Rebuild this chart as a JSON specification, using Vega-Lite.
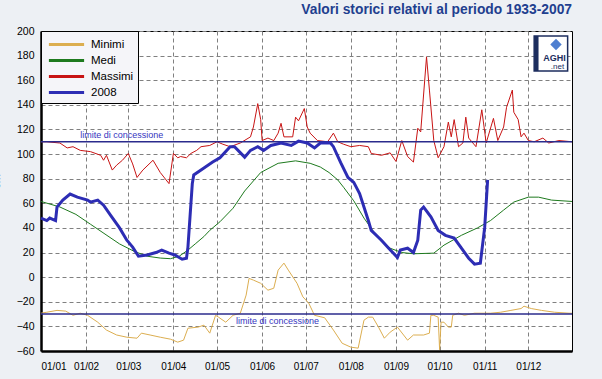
{
  "$schema": "https://vega.github.io/schema/vega-lite/v6.json",
  "width": 531,
  "height": 320,
  "autosize": {"type": "none"},
  "padding": {"left": 41, "top": 31, "right": 30, "bottom": 28},
  "background": "#edf0f4",
  "title": {"text": "Valori storici relativi al periodo 1933-2007", "anchor": "end", "frame": "group", "font": "Liberation Sans", "fontSize": 13.8, "fontWeight": "bold", "color": "#1f3f8f", "offset": 9},
  "config": {
    "view": {"fill": "#ffffff", "stroke": "#000000", "strokeWidth": 1},
    "axis": {"labelFont": "Liberation Sans", "labelFontSize": 10.5, "labelColor": "#000000", "labelOverlap": false, "gridColor": "#808080", "gridDash": [4, 3], "gridWidth": 1, "gridOpacity": 1, "domainColor": "#000000", "domainWidth": 2.5, "ticks": false, "titleFont": "Liberation Sans", "titleFontSize": 11, "titleFontWeight": "normal", "titleColor": "#000000"}
  },
  "datasets": {
    "series": [
      {"s": "Minimi", "day": 0, "v": -29.3}, {"s": "Minimi", "day": 4, "v": -28.5}, {"s": "Minimi", "day": 11, "v": -27}, {"s": "Minimi", "day": 17, "v": -27.6}, {"s": "Minimi", "day": 22, "v": -31}, {"s": "Minimi", "day": 27, "v": -29.3}, {"s": "Minimi", "day": 32, "v": -31}, {"s": "Minimi", "day": 39, "v": -36.6}, {"s": "Minimi", "day": 45, "v": -43}, {"s": "Minimi", "day": 52, "v": -47}, {"s": "Minimi", "day": 59, "v": -48.8}, {"s": "Minimi", "day": 66, "v": -49.6}, {"s": "Minimi", "day": 69, "v": -45.5}, {"s": "Minimi", "day": 75, "v": -47}, {"s": "Minimi", "day": 82, "v": -48.8}, {"s": "Minimi", "day": 89, "v": -50.4}, {"s": "Minimi", "day": 94, "v": -52.8}, {"s": "Minimi", "day": 98, "v": -51.2}, {"s": "Minimi", "day": 101, "v": -41.5}, {"s": "Minimi", "day": 108, "v": -40.6}, {"s": "Minimi", "day": 112, "v": -39}, {"s": "Minimi", "day": 116, "v": -45.5}, {"s": "Minimi", "day": 120, "v": -31}, {"s": "Minimi", "day": 122, "v": -32.5}, {"s": "Minimi", "day": 127, "v": -36.6}, {"s": "Minimi", "day": 132, "v": -31}, {"s": "Minimi", "day": 137, "v": -29.3}, {"s": "Minimi", "day": 141, "v": -14.6}, {"s": "Minimi", "day": 143, "v": -1}, {"s": "Minimi", "day": 146, "v": -2.4}, {"s": "Minimi", "day": 151, "v": -5}, {"s": "Minimi", "day": 156, "v": -10.6}, {"s": "Minimi", "day": 160, "v": -9}, {"s": "Minimi", "day": 163, "v": 5.7}, {"s": "Minimi", "day": 167, "v": 11.4}, {"s": "Minimi", "day": 170, "v": 5.7}, {"s": "Minimi", "day": 176, "v": -5}, {"s": "Minimi", "day": 180, "v": -16}, {"s": "Minimi", "day": 184, "v": -21}, {"s": "Minimi", "day": 188, "v": -31}, {"s": "Minimi", "day": 195, "v": -33}, {"s": "Minimi", "day": 201, "v": -43}, {"s": "Minimi", "day": 207, "v": -53.7}, {"s": "Minimi", "day": 213, "v": -56.9}, {"s": "Minimi", "day": 218, "v": -57.7}, {"s": "Minimi", "day": 222, "v": -35}, {"s": "Minimi", "day": 225, "v": -32.5}, {"s": "Minimi", "day": 228, "v": -32.5}, {"s": "Minimi", "day": 232, "v": -40.6}, {"s": "Minimi", "day": 236, "v": -49.6}, {"s": "Minimi", "day": 240, "v": -44.7}, {"s": "Minimi", "day": 245, "v": -40.6}, {"s": "Minimi", "day": 252, "v": -51.2}, {"s": "Minimi", "day": 256, "v": -47}, {"s": "Minimi", "day": 263, "v": -47}, {"s": "Minimi", "day": 267, "v": -45.5}, {"s": "Minimi", "day": 268, "v": -31}, {"s": "Minimi", "day": 270, "v": -31}, {"s": "Minimi", "day": 273, "v": -32.5}, {"s": "Minimi", "day": 274, "v": -59}, {"s": "Minimi", "day": 275, "v": -36.6}, {"s": "Minimi", "day": 277, "v": -36.6}, {"s": "Minimi", "day": 280, "v": -40.6}, {"s": "Minimi", "day": 282, "v": -40.6}, {"s": "Minimi", "day": 283, "v": -31}, {"s": "Minimi", "day": 287, "v": -29.3}, {"s": "Minimi", "day": 291, "v": -31}, {"s": "Minimi", "day": 298, "v": -29.3}, {"s": "Minimi", "day": 309, "v": -29.3}, {"s": "Minimi", "day": 316, "v": -28.5}, {"s": "Minimi", "day": 323, "v": -27}, {"s": "Minimi", "day": 330, "v": -25.5}, {"s": "Minimi", "day": 332, "v": -23.6}, {"s": "Minimi", "day": 337, "v": -25.5}, {"s": "Minimi", "day": 344, "v": -27}, {"s": "Minimi", "day": 353, "v": -28.5}, {"s": "Minimi", "day": 363, "v": -29.3}, {"s": "Minimi", "day": 365, "v": -29.3},
      {"s": "Medi", "day": 0, "v": 61.5}, {"s": "Medi", "day": 13, "v": 57}, {"s": "Medi", "day": 24, "v": 51}, {"s": "Medi", "day": 34, "v": 43}, {"s": "Medi", "day": 44, "v": 35}, {"s": "Medi", "day": 54, "v": 27}, {"s": "Medi", "day": 64, "v": 21}, {"s": "Medi", "day": 73, "v": 17}, {"s": "Medi", "day": 82, "v": 15.5}, {"s": "Medi", "day": 89, "v": 15}, {"s": "Medi", "day": 95, "v": 17}, {"s": "Medi", "day": 101, "v": 22}, {"s": "Medi", "day": 106, "v": 27}, {"s": "Medi", "day": 112, "v": 33}, {"s": "Medi", "day": 116, "v": 38}, {"s": "Medi", "day": 123, "v": 45}, {"s": "Medi", "day": 132, "v": 56}, {"s": "Medi", "day": 140, "v": 70}, {"s": "Medi", "day": 151, "v": 85}, {"s": "Medi", "day": 163, "v": 92.5}, {"s": "Medi", "day": 175, "v": 94.5}, {"s": "Medi", "day": 185, "v": 92.5}, {"s": "Medi", "day": 192, "v": 89.5}, {"s": "Medi", "day": 198, "v": 85}, {"s": "Medi", "day": 204, "v": 79}, {"s": "Medi", "day": 208, "v": 73}, {"s": "Medi", "day": 215, "v": 62}, {"s": "Medi", "day": 222, "v": 48}, {"s": "Medi", "day": 228, "v": 38}, {"s": "Medi", "day": 233, "v": 30}, {"s": "Medi", "day": 240, "v": 23.5}, {"s": "Medi", "day": 248, "v": 20}, {"s": "Medi", "day": 256, "v": 19}, {"s": "Medi", "day": 270, "v": 19.5}, {"s": "Medi", "day": 277, "v": 26}, {"s": "Medi", "day": 289, "v": 34}, {"s": "Medi", "day": 300, "v": 40}, {"s": "Medi", "day": 309, "v": 46}, {"s": "Medi", "day": 318, "v": 54.5}, {"s": "Medi", "day": 325, "v": 61}, {"s": "Medi", "day": 335, "v": 65}, {"s": "Medi", "day": 342, "v": 65}, {"s": "Medi", "day": 351, "v": 62.6}, {"s": "Medi", "day": 365, "v": 61.5},
      {"s": "Massimi", "day": 0, "v": 110}, {"s": "Massimi", "day": 4, "v": 110}, {"s": "Massimi", "day": 13, "v": 109}, {"s": "Massimi", "day": 18, "v": 105}, {"s": "Massimi", "day": 22, "v": 106}, {"s": "Massimi", "day": 27, "v": 103}, {"s": "Massimi", "day": 34, "v": 102}, {"s": "Massimi", "day": 41, "v": 99}, {"s": "Massimi", "day": 43, "v": 95}, {"s": "Massimi", "day": 45, "v": 99}, {"s": "Massimi", "day": 49, "v": 87}, {"s": "Massimi", "day": 52, "v": 91}, {"s": "Massimi", "day": 56, "v": 95}, {"s": "Massimi", "day": 60, "v": 100.5}, {"s": "Massimi", "day": 63, "v": 92}, {"s": "Massimi", "day": 66, "v": 81}, {"s": "Massimi", "day": 70, "v": 87}, {"s": "Massimi", "day": 77, "v": 95}, {"s": "Massimi", "day": 82, "v": 85}, {"s": "Massimi", "day": 88, "v": 76}, {"s": "Massimi", "day": 91, "v": 100.5}, {"s": "Massimi", "day": 94, "v": 97}, {"s": "Massimi", "day": 96, "v": 98}, {"s": "Massimi", "day": 100, "v": 97}, {"s": "Massimi", "day": 103, "v": 100.5}, {"s": "Massimi", "day": 107, "v": 103}, {"s": "Massimi", "day": 110, "v": 106}, {"s": "Massimi", "day": 116, "v": 107}, {"s": "Massimi", "day": 121, "v": 110}, {"s": "Massimi", "day": 125, "v": 108}, {"s": "Massimi", "day": 130, "v": 106}, {"s": "Massimi", "day": 137, "v": 109}, {"s": "Massimi", "day": 144, "v": 114}, {"s": "Massimi", "day": 146, "v": 122}, {"s": "Massimi", "day": 149, "v": 141}, {"s": "Massimi", "day": 151, "v": 128}, {"s": "Massimi", "day": 152, "v": 111}, {"s": "Massimi", "day": 156, "v": 113}, {"s": "Massimi", "day": 160, "v": 111}, {"s": "Massimi", "day": 163, "v": 117}, {"s": "Massimi", "day": 165, "v": 125}, {"s": "Massimi", "day": 167, "v": 114}, {"s": "Massimi", "day": 173, "v": 114}, {"s": "Massimi", "day": 175, "v": 130}, {"s": "Massimi", "day": 177, "v": 127}, {"s": "Massimi", "day": 181, "v": 137}, {"s": "Massimi", "day": 183, "v": 122}, {"s": "Massimi", "day": 185, "v": 117}, {"s": "Massimi", "day": 190, "v": 111}, {"s": "Massimi", "day": 197, "v": 110}, {"s": "Massimi", "day": 201, "v": 117}, {"s": "Massimi", "day": 204, "v": 110}, {"s": "Massimi", "day": 208, "v": 108}, {"s": "Massimi", "day": 213, "v": 106}, {"s": "Massimi", "day": 219, "v": 107}, {"s": "Massimi", "day": 225, "v": 106}, {"s": "Massimi", "day": 227, "v": 100.5}, {"s": "Massimi", "day": 234, "v": 99}, {"s": "Massimi", "day": 240, "v": 101}, {"s": "Massimi", "day": 244, "v": 94}, {"s": "Massimi", "day": 248, "v": 111}, {"s": "Massimi", "day": 252, "v": 98}, {"s": "Massimi", "day": 256, "v": 93.5}, {"s": "Massimi", "day": 259, "v": 121}, {"s": "Massimi", "day": 261, "v": 118}, {"s": "Massimi", "day": 265, "v": 179}, {"s": "Massimi", "day": 267, "v": 152}, {"s": "Massimi", "day": 270, "v": 111}, {"s": "Massimi", "day": 273, "v": 97}, {"s": "Massimi", "day": 277, "v": 106}, {"s": "Massimi", "day": 280, "v": 126}, {"s": "Massimi", "day": 282, "v": 114}, {"s": "Massimi", "day": 284, "v": 128}, {"s": "Massimi", "day": 287, "v": 106}, {"s": "Massimi", "day": 290, "v": 109}, {"s": "Massimi", "day": 292, "v": 130}, {"s": "Massimi", "day": 294, "v": 113}, {"s": "Massimi", "day": 299, "v": 106}, {"s": "Massimi", "day": 303, "v": 136}, {"s": "Massimi", "day": 306, "v": 109}, {"s": "Massimi", "day": 311, "v": 129}, {"s": "Massimi", "day": 314, "v": 111}, {"s": "Massimi", "day": 318, "v": 122}, {"s": "Massimi", "day": 320, "v": 138}, {"s": "Massimi", "day": 324, "v": 152}, {"s": "Massimi", "day": 325, "v": 134}, {"s": "Massimi", "day": 328, "v": 128}, {"s": "Massimi", "day": 330, "v": 114}, {"s": "Massimi", "day": 332, "v": 117}, {"s": "Massimi", "day": 335, "v": 111}, {"s": "Massimi", "day": 339, "v": 110}, {"s": "Massimi", "day": 345, "v": 113}, {"s": "Massimi", "day": 349, "v": 109}, {"s": "Massimi", "day": 356, "v": 111}, {"s": "Massimi", "day": 365, "v": 110},
      {"s": "2008", "day": 0, "v": 48}, {"s": "2008", "day": 4, "v": 46}, {"s": "2008", "day": 6, "v": 48}, {"s": "2008", "day": 10, "v": 46}, {"s": "2008", "day": 11, "v": 57}, {"s": "2008", "day": 15, "v": 62.6}, {"s": "2008", "day": 20, "v": 67.5}, {"s": "2008", "day": 25, "v": 65}, {"s": "2008", "day": 32, "v": 62.6}, {"s": "2008", "day": 34, "v": 61}, {"s": "2008", "day": 39, "v": 62.6}, {"s": "2008", "day": 43, "v": 58.5}, {"s": "2008", "day": 48, "v": 50}, {"s": "2008", "day": 54, "v": 40}, {"s": "2008", "day": 59, "v": 30}, {"s": "2008", "day": 63, "v": 24.4}, {"s": "2008", "day": 67, "v": 17}, {"s": "2008", "day": 73, "v": 18}, {"s": "2008", "day": 79, "v": 20}, {"s": "2008", "day": 83, "v": 22}, {"s": "2008", "day": 88, "v": 19.5}, {"s": "2008", "day": 92, "v": 18}, {"s": "2008", "day": 97, "v": 14.6}, {"s": "2008", "day": 100, "v": 15.4}, {"s": "2008", "day": 101, "v": 24.4}, {"s": "2008", "day": 104, "v": 76}, {"s": "2008", "day": 105, "v": 83}, {"s": "2008", "day": 112, "v": 88.6}, {"s": "2008", "day": 118, "v": 93.5}, {"s": "2008", "day": 123, "v": 97}, {"s": "2008", "day": 130, "v": 106}, {"s": "2008", "day": 133, "v": 106}, {"s": "2008", "day": 140, "v": 97.5}, {"s": "2008", "day": 144, "v": 103}, {"s": "2008", "day": 149, "v": 106}, {"s": "2008", "day": 153, "v": 103}, {"s": "2008", "day": 158, "v": 107}, {"s": "2008", "day": 165, "v": 109}, {"s": "2008", "day": 172, "v": 107}, {"s": "2008", "day": 177, "v": 110.5}, {"s": "2008", "day": 183, "v": 109}, {"s": "2008", "day": 188, "v": 105}, {"s": "2008", "day": 192, "v": 109}, {"s": "2008", "day": 199, "v": 109}, {"s": "2008", "day": 201, "v": 106}, {"s": "2008", "day": 206, "v": 93}, {"s": "2008", "day": 211, "v": 81}, {"s": "2008", "day": 215, "v": 77}, {"s": "2008", "day": 219, "v": 68}, {"s": "2008", "day": 225, "v": 46}, {"s": "2008", "day": 227, "v": 38}, {"s": "2008", "day": 234, "v": 30}, {"s": "2008", "day": 239, "v": 23.5}, {"s": "2008", "day": 245, "v": 16}, {"s": "2008", "day": 247, "v": 22}, {"s": "2008", "day": 252, "v": 23.5}, {"s": "2008", "day": 256, "v": 20}, {"s": "2008", "day": 259, "v": 30}, {"s": "2008", "day": 261, "v": 54.5}, {"s": "2008", "day": 263, "v": 57}, {"s": "2008", "day": 268, "v": 49}, {"s": "2008", "day": 273, "v": 38}, {"s": "2008", "day": 278, "v": 34}, {"s": "2008", "day": 284, "v": 31.7}, {"s": "2008", "day": 289, "v": 23.5}, {"s": "2008", "day": 294, "v": 15.4}, {"s": "2008", "day": 298, "v": 10.6}, {"s": "2008", "day": 302, "v": 11.4}, {"s": "2008", "day": 305, "v": 40.6}, {"s": "2008", "day": 307, "v": 79}
    ],
    "limits": [{"limit": 110}, {"limit": -30}]
  },
  "layer": [
    {
      "data": {"name": "series"},
      "transform": [{"filter": "datum.s != '2008'"}],
      "mark": {"type": "line", "strokeWidth": 1, "interpolate": "linear"},
      "encoding": {
        "x": {"field": "day", "type": "quantitative", "title": null, "scale": {"domain": [0, 365], "nice": false, "zero": false},
          "axis": {"values": [0, 31, 60, 91, 121, 152, 182, 213, 244, 274, 305, 335], "labelExpr": "timeFormat(datetime(2008, 0, 1 + datum.value), '%d/%m')", "labelFontSize": 10, "labelPadding": 10, "labelOverlap": false, "grid": true}},
        "y": {"field": "v", "type": "quantitative", "title": "cm", "scale": {"domain": [-60, 200], "nice": false, "zero": false},
          "axis": {"values": [-60, -40, -20, 0, 20, 40, 60, 80, 100, 120, 140, 160, 180, 200], "labelOverlap": false, "labelSeparation": 0, "labelPadding": 7, "grid": true, "titleX": -40, "titleY": 150, "titleAngle": -90}},
        "color": {"field": "s", "type": "nominal",
          "scale": {"domain": ["Minimi", "Medi", "Massimi", "2008"], "range": ["#dcae50", "#1e7a1e", "#c81414", "#2d2db4"]},
          "legend": {"title": null, "orient": "none", "legendX": 0, "legendY": 0, "fillColor": "#f5f5f9", "strokeColor": "#000000", "padding": 4, "symbolType": "M-2.2,0H2.2", "symbolSize": 256, "symbolOffset": 12, "symbolStrokeWidth": 3, "labelFont": "Liberation Sans", "labelFontSize": 11.5, "labelColor": "#000000", "labelOffset": 15, "rowPadding": 0, "labelExpr": "datum.label + '\u00a0\u00a0\u00a0\u00a0'"}}
      }
    },
    {
      "data": {"name": "limits"},
      "mark": {"type": "rule", "color": "#2b2b8c", "strokeWidth": 1.5},
      "encoding": {"y": {"field": "limit", "type": "quantitative", "title": "cm", "axis": {"values": [-60, -40, -20, 0, 20, 40, 60, 80, 100, 120, 140, 160, 180, 200], "labelOverlap": false}}}
    },
    {
      "data": {"values": [{"day": 27, "v": 110, "t": "limite di concessione"}]},
      "mark": {"type": "text", "align": "left", "baseline": "bottom", "dy": -2, "font": "Liberation Sans", "fontSize": 9, "color": "#3535c0"},
      "encoding": {"x": {"field": "day", "type": "quantitative", "title": null}, "y": {"field": "v", "type": "quantitative", "title": "cm", "axis": {"values": [-60, -40, -20, 0, 20, 40, 60, 80, 100, 120, 140, 160, 180, 200], "labelOverlap": false}}, "text": {"field": "t"}}
    },
    {
      "data": {"values": [{"day": 134, "v": -30, "t": "limite di concessione"}]},
      "mark": {"type": "text", "align": "left", "baseline": "top", "dy": 3, "font": "Liberation Sans", "fontSize": 9, "color": "#3535c0"},
      "encoding": {"x": {"field": "day", "type": "quantitative", "title": null}, "y": {"field": "v", "type": "quantitative", "title": "cm", "axis": {"values": [-60, -40, -20, 0, 20, 40, 60, 80, 100, 120, 140, 160, 180, 200], "labelOverlap": false}}, "text": {"field": "t"}}
    },
    {
      "data": {"name": "series"},
      "transform": [{"filter": "datum.s == '2008'"}],
      "mark": {"type": "line", "strokeWidth": 3, "interpolate": "linear"},
      "encoding": {
        "x": {"field": "day", "type": "quantitative", "title": null},
        "y": {"field": "v", "type": "quantitative", "title": "cm", "axis": {"values": [-60, -40, -20, 0, 20, 40, 60, 80, 100, 120, 140, 160, 180, 200], "labelOverlap": false}},
        "color": {"field": "s", "type": "nominal"}
      }
    },
    {
      "data": {"values": [{}]},
      "mark": {"type": "rect", "fill": "#ffffff", "stroke": "#1c2d5e", "strokeWidth": 1.5},
      "encoding": {"x": {"datum": 339}, "x2": {"datum": 362}, "y": {"datum": 196, "axis": {"values": [-60, -40, -20, 0, 20, 40, 60, 80, 100, 120, 140, 160, 180, 200], "labelOverlap": false}}, "y2": {"datum": 167.5}}
    },
    {
      "data": {"values": [{}]},
      "mark": {"type": "rect", "fill": "#1c2d5e"},
      "encoding": {"x": {"datum": 339}, "x2": {"datum": 342}, "y": {"datum": 196, "axis": {"values": [-60, -40, -20, 0, 20, 40, 60, 80, 100, 120, 140, 160, 180, 200], "labelOverlap": false}}, "y2": {"datum": 167.5}}
    },
    {
      "data": {"values": [{}]},
      "mark": {"type": "point", "filled": true, "color": "#4f7fd0", "size": 130, "opacity": 1, "shape": "diamond"},
      "encoding": {"x": {"datum": 354}, "y": {"datum": 189, "axis": {"values": [-60, -40, -20, 0, 20, 40, 60, 80, 100, 120, 140, 160, 180, 200], "labelOverlap": false}}}
    },
    {
      "data": {"values": [{}]},
      "mark": {"type": "text", "text": "AGHI", "font": "Liberation Sans", "fontWeight": "bold", "fontSize": 9, "color": "#1c2d5e", "align": "center", "baseline": "middle"},
      "encoding": {"x": {"datum": 353}, "y": {"datum": 178, "axis": {"values": [-60, -40, -20, 0, 20, 40, 60, 80, 100, 120, 140, 160, 180, 200], "labelOverlap": false}}}
    },
    {
      "data": {"values": [{}]},
      "mark": {"type": "text", "text": ".net", "font": "Liberation Sans", "fontSize": 8, "color": "#1c2d5e", "align": "center", "baseline": "middle"},
      "encoding": {"x": {"datum": 355}, "y": {"datum": 171, "axis": {"values": [-60, -40, -20, 0, 20, 40, 60, 80, 100, 120, 140, 160, 180, 200], "labelOverlap": false}}}
    }
  ]
}
